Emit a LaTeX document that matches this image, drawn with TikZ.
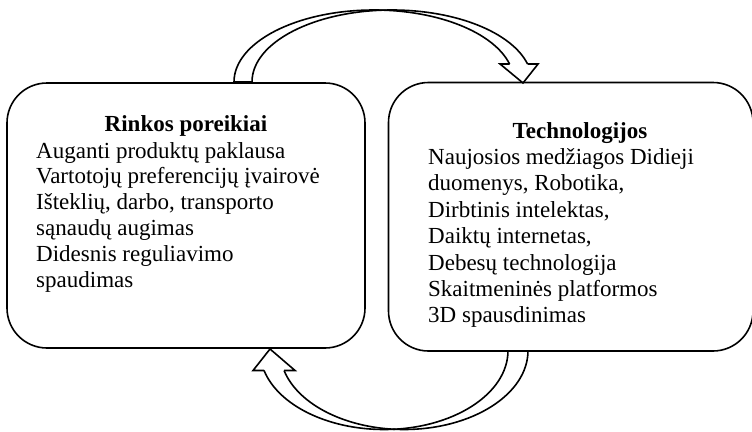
\documentclass[tikz,border=0pt]{standalone}
\usepackage{fontspec}
\setmainfont{Liberation Serif}
\usetikzlibrary{calc}
\begin{document}
\begin{tikzpicture}[x=1pt,y=-1pt,
  box/.style={draw, line width=1.6pt, rounded corners=40pt, inner sep=0pt},
  band/.style={draw, line width=1.6pt, line join=miter},
  ttl/.style={inner sep=0pt, anchor=base, font=\fontsize{23}{26}\selectfont\bfseries},
  body/.style={inner sep=0pt, anchor=base west}]
\useasboundingbox (0,0) rectangle (752,431);

% the two rounded panels
\node[box, minimum width=358pt, minimum height=265pt] (left) at (186,215.5) {};
\node[box, minimum width=364.5pt, minimum height=268.5pt] (right) at (570.75,216.75) {};

% panel titles
\node[ttl] (ltitle) at (186,131) {Rinkos poreikiai};
\node[ttl] (rtitle) at (580,138) {Technologijos};

% panel texts
\node[body] (ltext) at (36,158) {\parbox[t]{320pt}{\fontsize{23}{25.8}\selectfont
  Auganti produktų paklausa\\
  Vartotojų preferencijų įvairovė\\
  Išteklių, darbo, transporto\\
  sąnaudų augimas\\
  Didesnis reguliavimo\\
  spaudimas}};
\node[body] (rtext) at (428,164.5) {\parbox[t]{320pt}{\fontsize{23}{26.4}\selectfont
  Naujosios medžiagos Didieji\\
  duomenys, Robotika,\\
  Dirbtinis intelektas,\\
  Daiktų internetas,\\
  Debesų technologija\\
  Skaitmeninės platformos\\
  3D spausdinimas}};

% curved arrow over the top: from the left panel to the right panel
\coordinate (ta) at (234,82);
\coordinate (tb) at (252,82);
\coordinate (ttip) at (523,83);
\draw[band] (ta) arc[start angle=180, end angle=345.52, x radius=140, y radius=72]
  coordinate (tn1);
\draw[band] (tb) arc[start angle=180, end angle=345.52, x radius=140, y radius=72]
  coordinate (tn2);
\draw[band] (ta) -- (tb);
\draw[band] (tn1) -- ++(-9.5,0) -- (ttip) -- ($(tn2)+(10.5,0)$) -- (tn2);

% curved arrow under the bottom: from the right panel back to the left panel
\coordinate (ba) at (528,350.5);
\coordinate (bb) at (508,350.5);
\coordinate (btip) at (270,349);
\draw[band] (ba) arc[start angle=0, end angle=165.33, x radius=124, y radius=79]
  coordinate (bn1);
\draw[band] (bb) arc[start angle=0, end angle=165.33, x radius=124, y radius=79]
  coordinate (bn2);
\draw[band] (ba) -- (bb);
\draw[band] (bn2) -- ++(-11,0) -- (btip) -- ($(bn1)+(11,0)$) -- (bn1);
\end{tikzpicture}
\end{document}
